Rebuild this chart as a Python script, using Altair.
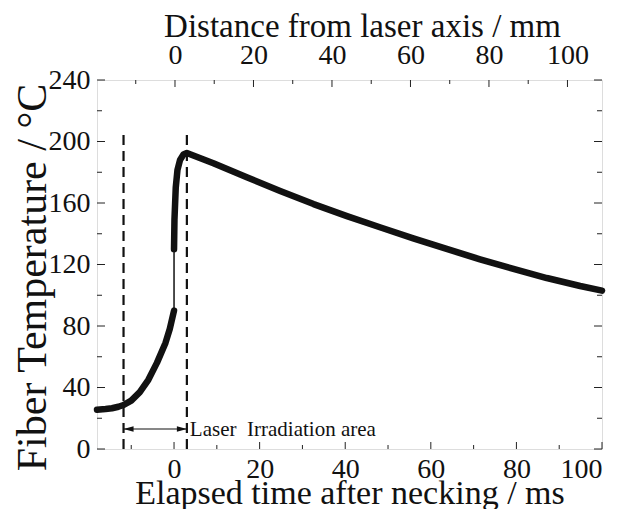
import altair as alt
import pandas as pd

# ---- data ----
# heating segment before necking (thick)
seg1_time = [-18, -16, -14.5, -13, -11.8, -10, -8, -6, -4, -2, -1, 0]
seg1_temp = [25.5, 26, 26.5, 27.5, 28.6, 31.5, 37, 45, 56, 69, 78, 90]
# jump at necking (thin)
seg2_time = [0, 0]
seg2_temp = [90, 130]
# after necking (thick)
seg3_time = [0, 0.1, 0.4, 0.8, 1.4, 2.2, 3.0, 9.2, 17, 24.8, 32.6, 40.4, 48.1,
             55.9, 63.7, 71.5, 79.3, 87.1, 94.9, 100]
seg3_temp = [130, 149, 170, 181.5, 188, 191.5, 192.5, 185.8, 176.7, 167.8, 159.3,
             151.5, 144.2, 137, 130.1, 123.4, 117.1, 111.2, 106, 103]

laser_bounds = [-11.8, 3.0]   # dashed lines (ms)
dash_top = 208
arrow_level = 13
label_pos = [3.7, 8.5]
label_text = "Laser\u00a0 Irradiation area"

x_major = [0, 20, 40, 60, 80, 100]
x_minor = [-10, 10, 30, 50, 70, 90]
y_major = [0, 40, 80, 120, 160, 200, 240]
y_minor = [20, 60, 100, 140, 180, 220]
top_major = [0, 20, 40, 60, 80, 100]
top_minor = [-10, 10, 30, 50, 70, 90]

FONT = "Liberation Serif"
W, H = 505, 369

rows = []
for seg, (xs, ys, w) in enumerate([(seg1_time, seg1_temp, 6.5),
                                   (seg2_time, seg2_temp, 1.5),
                                   (seg3_time, seg3_temp, 6.5)]):
    for i, (a, b) in enumerate(zip(xs, ys)):
        rows.append({"t": a, "T": b, "seg": seg, "w": w, "i": i})
curve = pd.DataFrame(rows)

X = alt.X("t:Q", scale=alt.Scale(domain=[-18, 100], nice=False, zero=False),
          axis=alt.Axis(values=x_major, ticks=False, domain=False, grid=False,
                        labelPadding=6, labelFontSize=28, labelFont=FONT,
                        labelColor="#111", title="Elapsed time after necking / ms",
                        titleFont=FONT, titleFontSize=34, titleFontWeight="normal",
                        titleColor="#111", titleBaseline="alphabetic", titleY=54))
Y = alt.Y("T:Q", scale=alt.Scale(domain=[0, 240], nice=False),
          axis=alt.Axis(values=y_major, ticks=False, domain=False, grid=False,
                        labelPadding=7, labelFontSize=28, labelFont=FONT,
                        labelColor="#111", title="Fiber Temperature / °C",
                        titleFont=FONT, titleFontSize=42, titleFontWeight="normal",
                        titleColor="#111", titleBaseline="alphabetic", titleX=-52,
                        titleY=197))

line = alt.Chart(curve).mark_line(color="#111", strokeCap="round", strokeJoin="round").encode(
    x=X, y=Y, detail="seg:N", order="i:Q",
    strokeWidth=alt.StrokeWidth("w:Q", scale=None, legend=None))

dash_df = pd.DataFrame({"t": laser_bounds, "T": [0, 0], "T2": [dash_top, dash_top]})
dashes = alt.Chart(dash_df).mark_rule(color="#111", strokeWidth=2.2, strokeDash=[10, 6]).encode(
    x=X, y=Y, y2="T2:Q")

arrow_df = pd.DataFrame({"t": [laser_bounds[0]], "t2": [laser_bounds[1]], "T": [arrow_level]})
arrow = alt.Chart(arrow_df).mark_rule(color="#111", strokeWidth=1.2).encode(
    x=X, x2="t2:Q", y=Y)
head_l = alt.Chart(pd.DataFrame({"t": [laser_bounds[0]], "T": [arrow_level]})).mark_point(
    shape="M 0 0 L 2 -0.55 L 2 0.55 Z", filled=True, color="#111", size=100, opacity=1).encode(x=X, y=Y)
head_r = alt.Chart(pd.DataFrame({"t": [laser_bounds[1]], "T": [arrow_level]})).mark_point(
    shape="M 0 0 L -2 -0.55 L -2 0.55 Z", filled=True, color="#111", size=100, opacity=1).encode(x=X, y=Y)

label = alt.Chart(pd.DataFrame({"t": [label_pos[0]], "T": [label_pos[1]], "s": [label_text]})).mark_text(
    align="left", baseline="alphabetic", font=FONT, fontSize=21, color="#111").encode(
    x=X, y=Y, text="s:N")

def xticks(vals, length):
    return alt.Chart(pd.DataFrame({"t": vals})).mark_rule(color="#222", strokeWidth=1).encode(
        x=X, y=alt.value(H), y2=alt.value(H - length))

def yticks(vals, length, right=False):
    x0 = W if right else 0
    x1 = W - length if right else length
    return alt.Chart(pd.DataFrame({"T": vals})).mark_rule(color="#222", strokeWidth=1).encode(
        y=Y, x=alt.value(x0), x2=alt.value(x1))

main = alt.layer(line, dashes, arrow, head_l, head_r, label,
                 xticks(x_major, 7), xticks(x_minor, 4),
                 yticks(y_major, 8), yticks(y_minor, 5),
                 yticks(y_major, 8, True), yticks(y_minor, 5, True))

XT = alt.X("d:Q", scale=alt.Scale(domain=[-19.87, 108.8], nice=False, zero=False),
           axis=alt.Axis(orient="top", values=top_major, ticks=False, domain=False, grid=False,
                         labelPadding=11, labelFontSize=28, labelFont=FONT, labelColor="#111",
                         title="Distance from laser axis / mm", titleFont=FONT, titleFontSize=33,
                         titleFontWeight="normal", titleColor="#111",
                         titleBaseline="alphabetic", titleY=-44, titleX=265,
                         titleAlign="center"))

def topticks(vals, length):
    return alt.Chart(pd.DataFrame({"d": vals})).mark_rule(color="#222", strokeWidth=1).encode(
        x=XT, y=alt.value(0), y2=alt.value(length))

top = alt.layer(topticks(top_major, 7), topticks(top_minor, 4))

chart = alt.layer(main, top).resolve_scale(x="independent").properties(
    width=W, height=H,
    autosize=alt.AutoSizeParams(type="none"),
    padding={"left": 89, "top": 72, "right": 10, "bottom": 60},
).configure_view(stroke="#222", strokeWidth=1.2).configure(background="white")

chart.save("out.html", embed_options={"renderer": "svg", "actions": False})
